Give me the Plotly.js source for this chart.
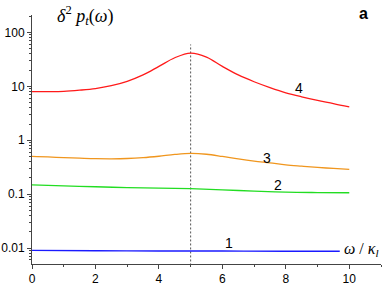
<!DOCTYPE html>
<html><head><meta charset="utf-8">
<script src="https://cdn.plot.ly/plotly-3.0.1.min.js"></script>
<style>html,body{margin:0;padding:0;background:#fff}#c{width:382px;height:286px}</style>
</head><body><div id="c"></div>
<script>
// Curve 4 (red)
const x4 = [0,0.5,1,1.5,2,2.5,3,3.5,4,4.5,5,5.5,6,6.5,7,7.5,8,8.5,9,9.5,10];
const y4 = [8.0,8.0,8.1,8.5,9.1,10.3,12.4,16.3,23.5,34,41.5,35,23.5,16.3,12.2,9.5,7.6,6.4,5.5,4.8,4.15];
// Curve 3 (orange)
const x3 = [0,0.5,1,1.5,2,2.5,3,3.5,4,4.5,5,5.5,6,6.5,7,7.5,8,8.5,9,9.5,10];
const y3 = [0.50,0.49,0.475,0.465,0.456,0.453,0.458,0.475,0.505,0.545,0.57,0.55,0.50,0.45,0.41,0.38,0.35,0.33,0.313,0.30,0.288];
// Curve 2 (green)
const x2 = [0,1,2,3,4,5,6,7,8,9,10];
const y2 = [0.148,0.142,0.137,0.132,0.129,0.126,0.120,0.114,0.109,0.107,0.106];
// Curve 1 (blue)
const x1 = [0,2,4,6,8,9.7];
const y1 = [0.0090,0.0089,0.0088,0.0088,0.0087,0.0087];
// Vertical dotted marker at omega = 5
const xv = [5,5];
const yv = [0.004,60];
// Curve labels
const labText = ['1','2','3','4'];
const labX = [6.2,7.75,7.4,8.4];
const labY = [0.0124,0.147,0.46,9.2];
const yTickVals = [0.01,0.1,1,10,100];
const yTickText = ['0.01','0.1','1','10','100'];

const minorY = [];
for (let e=-3;e<=2;e++) for (let m=2;m<=9;m++) minorY.push(m*Math.pow(10,e));

const traces = [
  {x:xv,y:yv,mode:'lines',line:{color:'#555',width:1,dash:'2px,2px'},hoverinfo:'skip'},
  {x:x1,y:y1,mode:'lines',line:{color:'#1a1aff',width:1.3,shape:'spline'}},
  {x:x2,y:y2,mode:'lines',line:{color:'#22dd22',width:1.3,shape:'spline'}},
  {x:x3,y:y3,mode:'lines',line:{color:'#f0961e',width:1.3,shape:'spline'}},
  {x:x4,y:y4,mode:'lines',line:{color:'#ff1a1a',width:1.3,shape:'spline'}}
];
const ann = labText.map((t,i)=>({x:labX[i],y:Math.log10(labY[i]),xref:'x',yref:'y',text:t,showarrow:false,
  font:{family:'Liberation Sans, Arial',size:14,color:'#000'},yanchor:'middle'}));
ann.push({xref:'paper',yref:'paper',x:0.065,y:1.0,xanchor:'left',yanchor:'middle',showarrow:false,
  text:'<i>δ</i><sup>2</sup> <i>p<sub>t</sub></i>(<i>ω</i>)',font:{family:'Liberation Serif, Times New Roman',size:18,color:'#000'}});
ann.push({xref:'paper',yref:'paper',x:0.95,y:1.005,xanchor:'center',yanchor:'middle',showarrow:false,
  text:'<b>a</b>',font:{family:'Liberation Sans, Arial',size:16,color:'#000'}});
ann.push({xref:'paper',yref:'paper',x:1.0,y:0.06,xanchor:'right',yanchor:'middle',showarrow:false,
  text:'<i>ω</i> / <i>κ<sub>l</sub></i>',font:{family:'Liberation Serif, Times New Roman',size:16,color:'#000'}});

const layout = {
  width:382,height:286,margin:{l:32,r:1,t:15,b:22},
  paper_bgcolor:'#fff',plot_bgcolor:'#fff',showlegend:false,
  font:{family:'Liberation Sans, Arial',size:12,color:'#000'},
  xaxis:{range:[0,11],showgrid:false,zeroline:false,showline:true,linecolor:'#444',linewidth:1,
    tickvals:[0,2,4,6,8,10],ticks:'outside',ticklen:4,tickcolor:'#444',
    minor:{tickvals:[1,3,5,7,9,11],ticks:'outside',ticklen:2,tickcolor:'#444',showgrid:false},
    tickfont:{size:12,color:'#000'}},
  yaxis:{type:'log',range:[-2.297,2.325],showgrid:false,zeroline:false,showline:true,linecolor:'#444',linewidth:1,
    tickvals:yTickVals,ticktext:yTickText,ticks:'outside',ticklen:4,tickcolor:'#444',
    minor:{tickvals:minorY,ticks:'outside',ticklen:2,tickcolor:'#444',showgrid:false},
    tickfont:{size:12,color:'#000'}},
  annotations:ann
};
Plotly.newPlot('c',traces,layout,{staticPlot:true,displayModeBar:false});
</script></body></html>
